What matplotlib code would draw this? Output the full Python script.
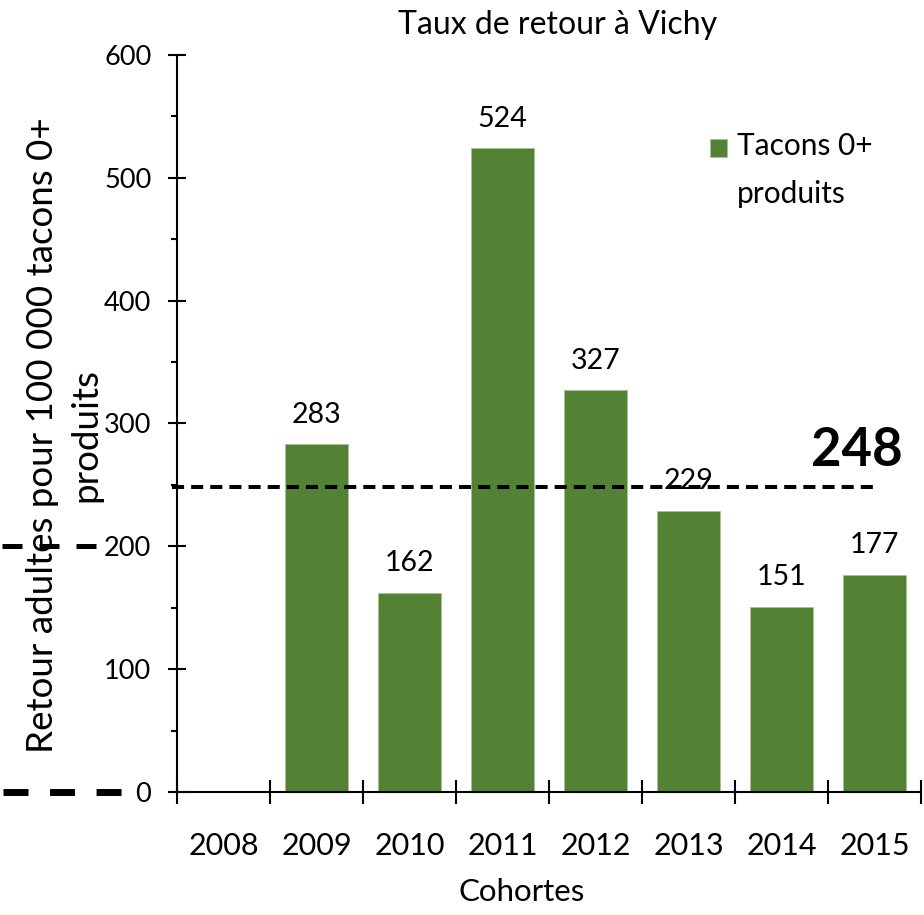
import matplotlib
matplotlib.use('Agg')
import matplotlib.pyplot as plt
import matplotlib.transforms as mtransforms
from matplotlib.patches import Rectangle
import numpy as np

plt.rcParams['font.family'] = ['Lato', 'DejaVu Sans']

cohortes = ['2008', '2009', '2010', '2011', '2012', '2013', '2014', '2015']
taux = [np.nan, 283, 162, 524, 327, 229, 151, 177]
seuil = 248
seuil_bas = [200, 0]
serie = 'Tacons 0+\nproduits'

GREEN = '#548235'

fig = plt.figure(figsize=(9.24, 9.15), dpi=100)
ax = fig.add_axes([177/924, 1 - 792/915, (921 - 177)/924, (792 - 55)/915])
ax.patch.set_alpha(0)

x = np.arange(len(cohortes))
ax.bar(x, taux, width=0.68, color=GREEN, edgecolor='#a9c196', linewidth=0.6,
       zorder=2)

for xi, v in zip(x, taux):
    if np.isnan(v):
        continue
    ax.annotate('%d' % v, (xi, v), xytext=(0, 12), textcoords='offset points',
                ha='center', va='bottom', fontsize=20.5, zorder=4)

# reference line
ax.axhline(seuil, xmin=-0.007, xmax=0.942, color='black', lw=2.9,
           dashes=(3.0, 1.75), clip_on=False, zorder=3)
ax.text(7.3, seuil + 30, str(seuil), ha='right', va='center',
        fontsize=38, fontweight='bold')

# dashed marks left of the axis
trans = mtransforms.blended_transform_factory(fig.transFigure, ax.transData)
ax.plot([2/924, 97/924], [seuil_bas[0]]*2, transform=trans, color='black',
        lw=3.6, dashes=(4.0, 3.4), clip_on=False, zorder=5)
ax.plot([3/924, 122/924], [seuil_bas[1]]*2, transform=trans, color='black',
        lw=5.0, dashes=(3.6, 3.1), clip_on=False, zorder=5)

ax.set_xlim(-0.5, 7.5)
ax.set_ylim(0, 600)
ax.set_yticks(np.arange(0, 601, 100))
ax.set_yticks(np.arange(50, 600, 100), minor=True)
ax.set_xticks(x)
ax.set_xticklabels(cohortes)
ax.set_xticks(np.arange(-0.5, 8, 1), minor=True)

for s in ['top', 'right']:
    ax.spines[s].set_visible(False)
for s in ['left', 'bottom']:
    ax.spines[s].set_linewidth(1.5)

ax.tick_params(axis='y', which='major', direction='inout', length=13, width=1.5,
               pad=12, labelsize=19.5)
ax.tick_params(axis='y', which='minor', direction='out', length=4.5, width=1.5)
ax.tick_params(axis='x', which='major', length=0, pad=29, labelsize=22)
ax.tick_params(axis='x', which='minor', direction='inout', length=17, width=1.5)

fig.text(558/924, 1 - 25/915, 'Taux de retour à Vichy', ha='center', va='center',
         fontsize=23)
fig.text(522/924, 1 - 892/915, 'Cohortes', ha='center', va='center', fontsize=22.5)
# drawn below the axes so the dashes sit on top of it
fig.text(64/924, 1 - 435/915, 'Retour adultes pour 100 000 tacons 0+\nproduits',
         rotation=90, ha='center', va='center', fontsize=26.5, linespacing=1.4,
         multialignment='center', zorder=-1)

# legend
fig.patches.append(Rectangle((710/924, 1 - 157/915), 17/924, 18/915,
                             transform=fig.transFigure, facecolor=GREEN,
                             edgecolor='#a9c196', linewidth=0.6))
fig.text(737/924, 1 - 132/915, serie, ha='left', va='top', fontsize=21.5,
         linespacing=1.85)

fig.savefig('out.png', dpi=100)
